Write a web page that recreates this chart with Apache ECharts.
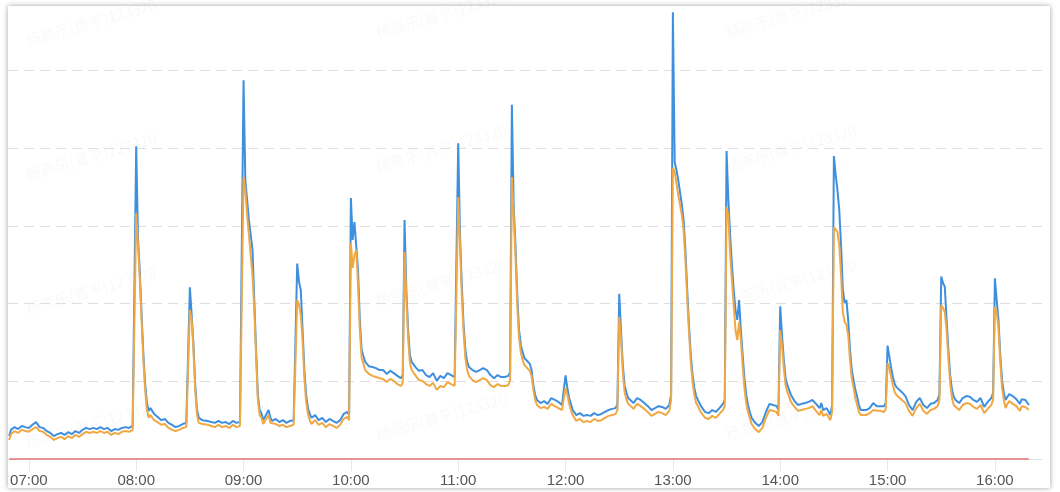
<!DOCTYPE html>
<html>
<head>
<meta charset="utf-8">
<script src="https://cdn.jsdelivr.net/npm/echarts/dist/echarts.min.js"></script>
<style>
html,body{margin:0;padding:0;background:#ffffff;width:1060px;height:492px;overflow:hidden;}
#card{position:absolute;left:8px;top:6px;width:1042px;height:482px;background:#fff;box-shadow:0 0 5px rgba(0,0,0,0.38);}
#chart{position:absolute;left:0;top:0;width:1060px;height:492px;}
</style>
</head>
<body>
<div id="card"></div>
<div id="chart"></div>
<script>
// ---- data ----
const times = [
  '06:49','06:50','06:52','06:54','06:56','06:58','07:00','07:02','07:04','07:06','07:08','07:10','07:12','07:14','07:16','07:18','07:20','07:22','07:24','07:26','07:28','07:30','07:32','07:34','07:36','07:38','07:40','07:42','07:44','07:46','07:48','07:50','07:52','07:54','07:56','07:58','07:59',
  '08:00','08:01','08:02','08:03','08:04','08:05','08:06','08:07','08:08','08:10','08:12','08:14','08:16','08:18','08:20','08:22','08:24','08:26','08:28','08:29',
  '08:30','08:31','08:32','08:33','08:34','08:35','08:37','08:40','08:42','08:44','08:46','08:48','08:50','08:52','08:54','08:56','08:58','08:59',
  '09:00','09:01','09:02','09:03','09:04','09:05','09:06','09:07','09:08','09:09','09:10','09:11','09:12','09:14','09:15','09:16','09:18','09:20','09:22','09:24','09:26','09:28','09:29',
  '09:30','09:31','09:32','09:33','09:34','09:35','09:36','09:37','09:38','09:40','09:42','09:44','09:46','09:48','09:50','09:52','09:54','09:56','09:58','09:59',
  '10:00','10:01','10:02','10:03','10:04','10:05','10:06','10:07','10:08','10:10','10:12','10:14','10:16','10:18','10:20','10:22','10:24','10:26','10:28','10:29',
  '10:30','10:31','10:32','10:33','10:34','10:36','10:38','10:40','10:42','10:44','10:46','10:48','10:50','10:52','10:54','10:56','10:58','10:59',
  '11:00','11:01','11:02','11:03','11:04','11:05','11:06','11:08','11:10','11:12','11:14','11:16','11:18','11:20','11:22','11:24','11:26','11:28','11:29',
  '11:30','11:31','11:32','11:33','11:34','11:35','11:36','11:37','11:38','11:40','11:41','11:42','11:43','11:44','11:46','11:48','11:50','11:52','11:54','11:56','11:58','11:59',
  '12:00','12:01','12:02','12:03','12:04','12:05','12:06','12:08','12:10','12:12','12:14','12:16','12:18','12:20','12:22','12:24','12:26','12:28','12:29',
  '12:30','12:31','12:32','12:33','12:34','12:35','12:36','12:38','12:40','12:42','12:44','12:46','12:48','12:50','12:52','12:54','12:56','12:58','12:59',
  '13:00','13:01','13:02','13:03','13:04','13:05','13:06','13:07','13:08','13:09','13:10','13:11','13:12','13:13','13:14','13:15','13:16','13:18','13:20','13:22','13:24','13:26','13:28','13:29',
  '13:30','13:31','13:32','13:33','13:34','13:35','13:36','13:37','13:38','13:39','13:40','13:41','13:42','13:43','13:44','13:46','13:48','13:50','13:52','13:54','13:56','13:58','13:59',
  '14:00','14:01','14:02','14:03','14:04','14:05','14:06','14:08','14:10','14:12','14:14','14:16','14:18','14:20','14:22','14:23','14:24','14:26','14:28','14:29',
  '14:30','14:31','14:32','14:33','14:34','14:35','14:36','14:37','14:38','14:39','14:40','14:41','14:42','14:43','14:44','14:45','14:46','14:48','14:50','14:52','14:54','14:56','14:58','14:59',
  '15:00','15:01','15:02','15:03','15:04','15:05','15:06','15:08','15:10','15:12','15:14','15:16','15:18','15:20','15:22','15:24','15:26','15:28','15:29',
  '15:30','15:31','15:32','15:33','15:34','15:35','15:36','15:37','15:38','15:40','15:42','15:44','15:46','15:48','15:50','15:52','15:54','15:56','15:58','15:59',
  '16:00','16:01','16:02','16:03','16:04','16:05','16:06','16:07','16:08','16:10','16:12','16:14','16:15','16:17','16:19'
];
const blueValues = [
  5.9,7.5,8.2,7.7,8.5,8.2,8.0,8.8,9.5,8.2,8.0,7.2,6.7,5.9,6.4,6.7,6.2,6.9,6.4,7.2,6.7,7.5,8.0,7.7,8.0,7.7,8.2,7.7,8.0,7.2,7.7,7.5,8.0,8.2,8.0,8.5,8.8,
  80.5,56.9,48.1,37.3,27.0,19.3,14.4,12.4,13.1,11.6,10.8,10.0,10.3,9.3,8.8,8.2,8.5,9.0,9.3,9.0,
  44.2,37.1,29.3,19.0,12.6,10.6,10.0,9.8,9.5,9.3,9.8,9.3,9.5,9.0,9.8,9.3,9.5,9.8,
  97.5,71.8,66.7,61.5,57.7,53.8,40.9,28.1,16.5,12.6,11.8,10.0,9.5,12.6,10.6,9.8,10.3,9.5,10.0,9.3,9.8,10.0,9.5,
  50.3,45.6,43.5,33.2,22.9,16.5,13.1,11.6,10.6,11.3,10.0,10.6,9.5,10.3,9.8,9.3,10.0,11.6,12.1,11.3,
  67.2,56.4,61.0,61.5,48.6,35.8,28.1,26.5,25.0,23.9,23.7,23.4,22.9,22.9,21.9,22.7,22.1,21.4,20.8,21.6,
  61.5,43.5,33.2,26.8,25.0,23.7,22.7,22.9,21.6,21.1,22.1,20.1,21.4,20.8,22.1,21.6,21.1,21.4,
  81.3,57.7,44.8,34.5,28.1,25.0,23.7,22.9,22.4,22.9,23.4,22.9,21.6,20.8,21.6,21.1,21.1,21.4,22.4,
  91.2,65.4,55.1,42.2,33.2,29.3,27.5,26.0,25.5,24.5,22.9,19.0,16.5,15.2,14.4,14.9,14.2,15.7,15.2,14.7,13.9,14.2,
  21.5,18.3,15.7,14.2,12.6,12.1,11.3,11.8,11.1,11.3,11.1,11.8,11.3,11.6,12.1,12.6,12.9,13.1,14.2,
  42.5,33.2,24.2,19.0,17.2,15.7,15.7,14.4,15.7,15.2,14.4,13.6,12.6,13.1,13.6,13.4,12.9,13.9,16.5,
  115.0,76.4,74.4,71.8,68.7,65.4,61.5,53.8,43.5,34.5,26.8,21.6,18.3,16.2,15.2,14.2,13.4,12.1,11.8,12.6,12.1,13.1,14.2,15.2,
  79.3,66.7,57.7,49.9,43.5,38.4,35.8,40.9,33.2,26.8,20.8,16.5,13.9,12.1,10.6,9.3,8.5,9.5,12.1,14.2,13.9,13.6,12.6,
  39.3,31.9,25.5,20.8,19.0,17.8,16.5,14.9,13.9,14.2,14.4,14.7,15.2,14.2,13.1,14.4,12.6,13.1,11.3,13.9,
  78.0,73.1,69.2,64.1,55.1,43.5,40.2,40.9,35.8,28.1,22.9,20.3,17.8,16.0,13.9,12.6,13.1,12.6,13.1,14.4,13.6,13.6,13.6,14.4,
  29.2,26.3,23.4,21.1,19.3,18.5,18.3,17.2,16.2,13.9,12.6,14.7,15.7,13.9,13.1,14.2,14.4,15.2,16.7,
  47.0,45.3,44.3,35.8,28.1,21.6,17.8,16.0,15.2,14.4,15.7,16.2,16.0,15.2,14.7,15.7,13.4,14.7,15.7,17.0,
  46.5,40.9,35.8,26.8,20.3,17.0,15.2,16.0,16.7,16.2,15.4,14.2,15.4,15.2,13.9
];
const orangeValues = [
  4.9,6.4,7.2,6.7,7.5,7.2,7.0,7.7,8.2,7.2,7.0,6.2,5.7,4.9,5.4,5.7,5.1,5.9,5.4,6.2,5.7,6.4,7.0,6.7,7.0,6.7,7.2,6.7,7.0,6.2,6.7,6.4,7.0,7.2,7.0,7.5,7.7,
  63.3,55.1,46.6,35.8,25.5,17.8,12.6,10.6,11.3,10.0,9.5,8.8,9.0,8.0,7.5,7.2,7.5,8.0,8.2,8.0,
  38.4,35.8,28.1,17.8,11.3,9.3,9.0,8.8,8.5,8.2,8.8,8.2,8.5,8.0,8.8,8.2,8.5,8.8,
  72.6,69.2,62.8,57.7,52.5,47.4,38.4,26.8,15.2,11.3,10.6,9.0,8.5,11.3,9.3,8.8,9.0,8.5,8.8,8.2,8.5,8.8,8.5,
  40.9,39.6,37.1,30.6,20.8,14.7,11.6,10.0,9.0,10.0,8.8,9.3,8.2,9.0,8.5,8.0,8.8,10.3,10.8,10.0,
  55.6,49.2,52.5,53.8,44.8,33.2,26.0,24.5,22.9,21.9,21.4,21.1,20.8,20.6,19.8,20.6,20.1,19.3,18.8,19.6,
  53.3,41.4,31.1,24.7,22.9,21.6,20.3,20.1,19.3,18.8,19.6,17.8,18.8,18.5,19.8,19.3,18.8,19.0,
  67.4,55.1,42.2,32.7,26.0,22.9,21.4,20.3,19.8,20.3,20.8,20.3,19.0,18.5,19.3,18.8,18.8,19.0,20.3,
  72.6,62.8,52.5,39.6,31.1,27.5,25.5,24.2,23.7,22.7,21.4,17.8,15.2,13.9,13.1,13.4,12.9,14.2,13.6,13.1,12.6,12.9,
  18.3,16.5,14.2,12.6,11.3,10.6,9.8,10.3,9.5,9.8,9.5,10.3,9.8,10.0,10.6,11.1,11.3,11.6,12.6,
  36.6,31.1,22.4,17.2,15.4,14.2,14.2,12.9,14.2,13.6,12.9,12.1,11.1,11.6,12.1,11.8,11.3,12.4,15.2,
  74.9,73.9,71.0,68.0,65.4,62.8,58.9,51.2,41.4,32.7,25.0,19.8,16.5,14.4,13.6,12.6,11.8,10.6,10.3,11.1,10.6,11.6,12.6,13.6,
  64.9,62.8,52.5,46.1,39.6,33.2,30.6,35.3,30.6,24.2,18.3,14.4,12.1,10.6,9.0,7.7,6.9,8.0,10.6,12.6,12.4,12.1,11.1,
  33.2,29.3,23.4,19.0,17.2,16.0,14.7,13.4,12.4,12.6,12.9,13.1,13.6,12.4,11.3,12.6,11.1,11.6,10.0,12.1,
  59.7,59.5,58.4,55.1,47.4,37.8,35.3,34.5,31.9,25.5,20.8,18.3,15.7,13.9,12.1,11.3,11.6,11.3,11.8,12.6,12.4,12.4,12.1,12.9,
  24.7,23.4,21.1,19.0,17.2,16.5,16.2,15.2,14.4,12.4,11.1,13.1,14.2,12.4,11.6,12.6,12.9,13.6,15.2,
  39.6,38.9,37.8,33.2,26.0,19.6,15.7,13.9,13.4,12.6,13.9,14.4,14.2,13.4,12.9,13.9,11.8,12.9,13.9,15.2,
  39.1,37.8,33.7,25.0,18.3,15.2,13.1,14.2,14.9,14.2,13.6,12.4,13.6,13.4,12.6
];
const redTimes = ['06:49', '16:19'];
const redValues = [0, 0];
const watermarkText = '杨燕乐(首平)123320';

// ---- build ----
function ts(hm) {
  const p = hm.split(':').map(Number);
  return Date.UTC(2024, 0, 1, p[0], p[1], p[2] || 0);
}
function pad(n) { return (n < 10 ? '0' : '') + n; }
const blueData = times.map((t, i) => [ts(t), blueValues[i]]);
const orangeData = times.map((t, i) => [ts(t), orangeValues[i]]);
const redData = redTimes.map((t, i) => [ts(t), redValues[i]]);

const wmPos = [[24, 34], [374, 26], [724, 26], [24, 168], [374, 160], [724, 160], [24, 302], [374, 294], [724, 294], [24, 436], [374, 428], [724, 428]];

const chart = echarts.init(document.getElementById('chart'), null, { renderer: 'canvas' });
chart.setOption({
  animation: false,
  useUTC: true,
  backgroundColor: 'transparent',
  grid: { left: 8, right: 18, top: 70.5, bottom: 33 },
  xAxis: {
    type: 'time',
    min: ts('06:48:20'),
    max: ts('16:26:20'),
    minInterval: 3600000,
    maxInterval: 3600000,
    splitLine: { show: false },
    axisLine: { lineStyle: { color: '#e0e3ea', width: 1 } },
    axisTick: { show: true, length: 12, lineStyle: { color: '#e4e7ee' } },
    axisLabel: {
      margin: 14,
      fontSize: 15,
      color: '#555',
      fontFamily: 'Liberation Sans, Arial, sans-serif',
      formatter: function (v) {
        const d = new Date(v);
        if (d.getUTCMinutes() !== 0 || d.getUTCSeconds() !== 0) return '';
        return pad(d.getUTCHours()) + ':00';
      }
    }
  },
  yAxis: {
    type: 'value',
    min: 0,
    max: 100,
    interval: 20,
    axisLabel: { show: false },
    axisLine: { show: false },
    axisTick: { show: false },
    splitLine: { lineStyle: { type: [10, 6], color: '#dedede', width: 1 } }
  },
  graphic: wmPos.map(p => ({
    type: 'text',
    x: p[0], y: p[1],
    rotation: 0.28,
    silent: true,
    z: 0,
    style: { text: watermarkText, fill: 'rgba(0,0,0,0.028)', font: '15px "Noto Sans CJK SC", sans-serif' }
  })),
  series: [
    { name: 'blue', type: 'line', data: blueData, clip: false, showSymbol: false, lineStyle: { color: '#3f8fdf', width: 2 }, itemStyle: { color: '#3f8fdf' }, z: 2 },
    { name: 'orange', type: 'line', data: orangeData, clip: false, showSymbol: false, lineStyle: { color: '#f0a844', width: 2 }, itemStyle: { color: '#f0a844' }, z: 3 },
    { name: 'red', type: 'line', data: redData, clip: false, showSymbol: false, lineStyle: { color: '#e57373', width: 1.5 }, itemStyle: { color: '#e57373' }, z: 4 }
  ]
});
</script>
</body>
</html>
